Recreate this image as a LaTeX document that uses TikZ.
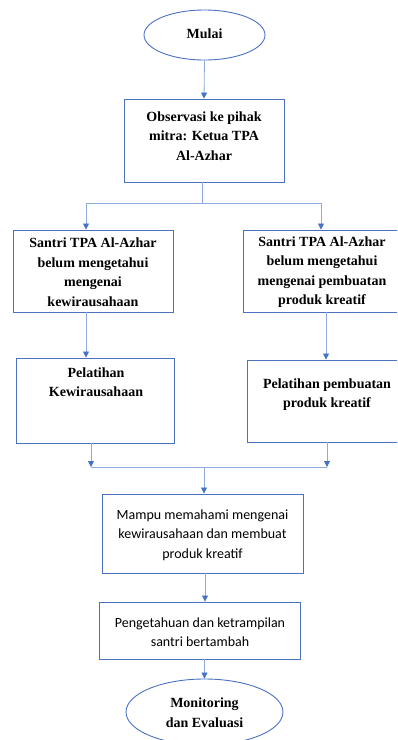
\documentclass[tikz,border=0pt]{standalone}
\usepackage{fontspec}
\setmainfont{Liberation Serif}
\newfontfamily\tnr{Liberation Serif}
\newfontfamily\calib{Carlito}
\usetikzlibrary{arrows.meta,shapes.geometric}
\definecolor{boxblue}{HTML}{4A72C0}
\definecolor{lineblue}{HTML}{8FAADC}
\definecolor{tipblue}{HTML}{4472C4}
\tikzset{
  box/.style={draw=boxblue,line width=0.9pt,rectangle,inner sep=0pt},
  oval/.style={draw=boxblue,line width=0.9pt,ellipse,inner sep=0pt},
  serif/.style={font=\tnr\bfseries\fontsize{14}{19.5}\selectfont,align=center,inner sep=0pt},
  sans/.style={font=\calib\fontsize{14}{19.5}\selectfont,align=center,inner sep=0pt},
  conn/.style={draw=lineblue,line width=0.8pt},
  arr/.style={conn,-{Triangle[width=6pt,length=6pt,color=tipblue]}},
}
\begin{document}
\begin{tikzpicture}[x=1pt,y=-1pt]
\useasboundingbox (0,0) rectangle (397,740);
\clip (0,0) rectangle (397,740);
% shapes
\node[oval,minimum width=121pt,minimum height=50pt] (mulai) at (204.5,35) {};
\node[box,minimum width=160pt,minimum height=83pt] (obs) at (204,140.5) {};
\node[box,minimum width=160pt,minimum height=82pt] (s1) at (93,271) {};
\node[box,minimum width=158pt,minimum height=82pt] (s2) at (322,271) {};
\node[box,minimum width=158pt,minimum height=85pt] (p1) at (95,400.5) {};
\node[box,minimum width=161pt,minimum height=82pt] (p2) at (327.5,401) {};
\node[box,minimum width=201pt,minimum height=79pt] (mampu) at (202.5,533.5) {};
\node[box,minimum width=201pt,minimum height=57pt] (peng) at (199.5,630.5) {};
\node[oval,minimum width=157pt,minimum height=66pt] (mon) at (204.5,712) {};
% texts
\node[serif] (tmulai) at (204.5,34) {Mulai};
\node[serif] (tobs) at (204,136) {Observasi ke pihak\\mitra: Ketua TPA\\Al-Azhar};
\node[serif] (ts1) at (93,272) {Santri TPA Al-Azhar\\belum mengetahui\\mengenai\\kewirausahaan};
\node[serif] (ts2) at (322,272) {Santri TPA Al-Azhar\\belum mengetahui\\mengenai pembuatan\\produk kreatif};
\node[serif] (tp1) at (96,382) {Pelatihan\\Kewirausahaan};
\node[serif] (tp2) at (327,394.5) {Pelatihan pembuatan\\produk kreatif};
\node[sans] (tmampu) at (202.5,535) {Mampu memahami mengenai\\kewirausahaan dan membuat\\produk kreatif};
\node[sans] (tpeng) at (200,632) {Pengetahuan dan ketrampilan\\santri bertambah};
\node[serif] (tmon) at (204.5,712.5) {Monitoring\\dan Evaluasi};
% connectors
\draw[arr] (mulai.south) -- (obs.north);
\coordinate (split) at (202,203);
\coordinate (bl) at (86,203);
\coordinate (br) at (321,203);
\draw[conn] (obs.south -| split) -- (split);
\draw[conn] (bl) -- (br);
\draw[arr] (bl) -- (bl |- s1.north);
\draw[arr] (br) -- (br |- s2.north);
\coordinate (a1) at (86,0);
\coordinate (a2) at (326,0);
\draw[arr] (a1 |- s1.south) -- (a1 |- p1.north);
\draw[arr] (a2 |- s2.south) -- (a2 |- p2.north);
\coordinate (ml) at (91,467);
\coordinate (mr) at (327,467);
\coordinate (mc) at (204,467);
\draw[conn] (ml) -- (mr);
\draw[arr] (ml |- p1.south) -- (ml);
\draw[arr] (mr |- p2.south) -- (mr);
\draw[arr] (mc) -- (mc |- mampu.north);
\coordinate (c2) at (205,0);
\draw[arr] (c2 |- mampu.south) -- (c2 |- peng.north);
\coordinate (c3) at (204.5,0);
\draw[arr] (c3 |- peng.south) -- (mon.north);
\end{tikzpicture}
\end{document}
